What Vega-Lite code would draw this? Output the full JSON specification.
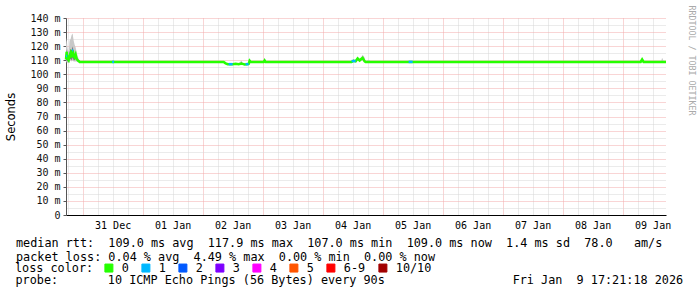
{
  "$schema": "https://vega.github.io/schema/vega-lite/v6.json",
  "width": 600,
  "height": 197,
  "autosize": "none",
  "padding": {"left": 66, "top": 18, "right": 31, "bottom": 82},
  "background": "white",
  "title": {"text": "probe:\u00a0\u00a0\u00a0\u00a0\u00a0\u00a0\u00a010 ICMP Echo Pings (56 Bytes) every 90s\u00a0\u00a0\u00a0\u00a0\u00a0\u00a0\u00a0\u00a0\u00a0\u00a0\u00a0\u00a0\u00a0\u00a0\u00a0\u00a0\u00a0\u00a0Fri Jan\u00a0\u00a09 17:21:18 2026",
    "orient": "bottom", "anchor": "start", "frame": "group", "dx": -50.5, "offset": 0, "baseline": "top",
    "font": "DejaVu Sans Mono", "fontSize": 11.8, "fontWeight": "normal", "color": "#000"},
  "config": {
    "view": {"stroke": null},
    "axis": {"labelFont": "DejaVu Sans Mono", "titleFont": "DejaVu Sans Mono", "titleFontWeight": "normal", "gridDash": [1, 1], "gridWidth": 1, "gridOpacity": 1}
  },
  "datasets": {
    "ping": [
      {"t": "2025-12-30T17:21:00Z", "med": 110.5, "lo": 108, "hi": 121, "dlo": 109.5, "dhi": 113},
      {"t": "2025-12-30T17:36:00Z", "med": 116, "lo": 109, "hi": 126, "dlo": 110, "dhi": 118},
      {"t": "2025-12-30T18:00:00Z", "med": 111, "lo": 108, "hi": 118, "dlo": 109, "dhi": 113},
      {"t": "2025-12-30T18:24:00Z", "med": 110, "lo": 108, "hi": 116, "dlo": 109, "dhi": 112},
      {"t": "2025-12-30T18:48:00Z", "med": 113, "lo": 109, "hi": 124, "dlo": 110, "dhi": 116},
      {"t": "2025-12-30T19:12:00Z", "med": 115, "lo": 110, "hi": 125, "dlo": 111, "dhi": 118},
      {"t": "2025-12-30T19:36:00Z", "med": 112, "lo": 109, "hi": 128, "dlo": 110, "dhi": 117},
      {"t": "2025-12-30T20:00:00Z", "med": 117, "lo": 110, "hi": 129, "dlo": 112, "dhi": 120},
      {"t": "2025-12-30T20:24:00Z", "med": 113, "lo": 109, "hi": 124, "dlo": 110, "dhi": 116},
      {"t": "2025-12-30T20:48:00Z", "med": 112, "lo": 109, "hi": 121, "dlo": 110, "dhi": 114},
      {"t": "2025-12-30T21:12:00Z", "med": 114, "lo": 109, "hi": 119, "dlo": 111, "dhi": 116},
      {"t": "2025-12-30T21:36:00Z", "med": 111, "lo": 109, "hi": 116, "dlo": 110, "dhi": 113},
      {"t": "2025-12-30T22:00:00Z", "med": 110, "lo": 108.5, "hi": 113, "dlo": 109, "dhi": 111},
      {"t": "2025-12-30T22:24:00Z", "med": 109.5, "lo": 108.5, "hi": 111, "dlo": 109, "dhi": 110},
      {"t": "2025-12-30T22:48:00Z", "med": 108.8, "lo": 108.4, "hi": 109.3, "dlo": 108.8, "dhi": 108.8},
      {"t": "2026-01-02T08:24:00Z", "med": 108.8, "lo": 108.4, "hi": 109.3, "dlo": 108.8, "dhi": 108.8},
      {"t": "2026-01-02T09:12:00Z", "med": 107.8, "lo": 107.4, "hi": 108.3, "dlo": 107.8, "dhi": 107.8},
      {"t": "2026-01-02T10:00:00Z", "med": 107.2, "lo": 106.8, "hi": 107.7, "dlo": 107.2, "dhi": 107.2},
      {"t": "2026-01-02T12:00:00Z", "med": 107.2, "lo": 106.8, "hi": 107.7, "dlo": 107.2, "dhi": 107.2},
      {"t": "2026-01-02T13:12:00Z", "med": 107.5, "lo": 107.1, "hi": 108, "dlo": 107.5, "dhi": 107.5},
      {"t": "2026-01-02T14:24:00Z", "med": 107.2, "lo": 106.8, "hi": 107.7, "dlo": 107.2, "dhi": 107.2},
      {"t": "2026-01-02T15:36:00Z", "med": 107.6, "lo": 107, "hi": 109.8, "dlo": 107.2, "dhi": 108.6},
      {"t": "2026-01-02T16:00:00Z", "med": 107.4, "lo": 107, "hi": 107.9, "dlo": 107.4, "dhi": 107.4},
      {"t": "2026-01-02T16:48:00Z", "med": 107, "lo": 106.6, "hi": 107.5, "dlo": 107, "dhi": 107},
      {"t": "2026-01-02T17:36:00Z", "med": 107.1, "lo": 106.7, "hi": 107.6, "dlo": 107.1, "dhi": 107.1},
      {"t": "2026-01-02T18:24:00Z", "med": 107.4, "lo": 107, "hi": 107.9, "dlo": 107.4, "dhi": 107.4},
      {"t": "2026-01-02T18:48:00Z", "med": 109.6, "lo": 107, "hi": 111.2, "dlo": 107.5, "dhi": 111},
      {"t": "2026-01-02T19:12:00Z", "med": 108.8, "lo": 108.4, "hi": 109.3, "dlo": 108.8, "dhi": 108.8},
      {"t": "2026-01-03T00:24:00Z", "med": 108.8, "lo": 108.4, "hi": 109.3, "dlo": 108.8, "dhi": 108.8},
      {"t": "2026-01-03T00:48:00Z", "med": 109.8, "lo": 108.5, "hi": 111.8, "dlo": 108.6, "dhi": 111.4},
      {"t": "2026-01-03T01:12:00Z", "med": 108.8, "lo": 108.4, "hi": 109.3, "dlo": 108.8, "dhi": 108.8},
      {"t": "2026-01-04T11:36:00Z", "med": 108.8, "lo": 108.4, "hi": 109.3, "dlo": 108.8, "dhi": 108.8},
      {"t": "2026-01-04T12:24:00Z", "med": 109.6, "lo": 108.8, "hi": 110.8, "dlo": 109.6, "dhi": 109.6},
      {"t": "2026-01-04T13:12:00Z", "med": 109.2, "lo": 108.8, "hi": 109.7, "dlo": 109.2, "dhi": 109.2},
      {"t": "2026-01-04T14:00:00Z", "med": 111.2, "lo": 109.5, "hi": 112.2, "dlo": 111.2, "dhi": 111.2},
      {"t": "2026-01-04T14:48:00Z", "med": 109.8, "lo": 109.2, "hi": 110.5, "dlo": 109.8, "dhi": 109.8},
      {"t": "2026-01-04T15:12:00Z", "med": 110.5, "lo": 109.5, "hi": 111.5, "dlo": 110.5, "dhi": 110.5},
      {"t": "2026-01-04T16:00:00Z", "med": 111.6, "lo": 109.8, "hi": 113.8, "dlo": 111.6, "dhi": 111.6},
      {"t": "2026-01-04T16:48:00Z", "med": 109.2, "lo": 108.6, "hi": 112, "dlo": 109.2, "dhi": 109.2},
      {"t": "2026-01-04T17:12:00Z", "med": 108.8, "lo": 108.4, "hi": 109.3, "dlo": 108.8, "dhi": 108.8},
      {"t": "2026-01-04T18:24:00Z", "med": 108.8, "lo": 108.4, "hi": 110.4, "dlo": 108.8, "dhi": 108.8},
      {"t": "2026-01-04T19:12:00Z", "med": 108.8, "lo": 108.4, "hi": 109.3, "dlo": 108.8, "dhi": 108.8},
      {"t": "2026-01-09T07:12:00Z", "med": 108.8, "lo": 108.4, "hi": 109.3, "dlo": 108.8, "dhi": 108.8},
      {"t": "2026-01-09T07:48:00Z", "med": 110.6, "lo": 108.4, "hi": 111.4, "dlo": 108.8, "dhi": 111.1},
      {"t": "2026-01-09T08:24:00Z", "med": 108.8, "lo": 108.4, "hi": 109.3, "dlo": 108.8, "dhi": 108.8},
      {"t": "2026-01-09T15:24:00Z", "med": 108.8, "lo": 108.4, "hi": 109.3, "dlo": 108.8, "dhi": 108.8},
      {"t": "2026-01-09T15:48:00Z", "med": 108.8, "lo": 108.4, "hi": 111.8, "dlo": 108.8, "dhi": 108.8},
      {"t": "2026-01-09T16:24:00Z", "med": 108.8, "lo": 108.4, "hi": 109.3, "dlo": 108.8, "dhi": 108.8},
      {"t": "2026-01-09T17:21:00Z", "med": 108.8, "lo": 108.4, "hi": 109.3, "dlo": 108.8, "dhi": 108.8}
    ],
    "loss": [
      {"t": "2025-12-30T17:21:00Z", "t2": "2025-12-30T17:48:00Z", "med": 113, "loss": "1"},
      {"t": "2025-12-30T19:48:00Z", "t2": "2025-12-30T20:12:00Z", "med": 117, "loss": "1"},
      {"t": "2025-12-31T11:48:00Z", "t2": "2025-12-31T12:36:00Z", "med": 108.8, "loss": "1"},
      {"t": "2026-01-02T10:24:00Z", "t2": "2026-01-02T12:00:00Z", "med": 107.2, "loss": "1"},
      {"t": "2026-01-02T17:12:00Z", "t2": "2026-01-02T18:24:00Z", "med": 107.2, "loss": "1"},
      {"t": "2026-01-04T11:36:00Z", "t2": "2026-01-04T13:12:00Z", "med": 109.4, "loss": "1"},
      {"t": "2026-01-05T10:24:00Z", "t2": "2026-01-05T12:00:00Z", "med": 108.8, "loss": "1"}
    ]
  },
  "layer": [
    {
      "data": {"name": "ping"},
      "mark": {"type": "area", "color": "#c8c8c8", "opacity": 1},
      "encoding": {
        "x": {"field": "t", "type": "temporal",
          "scale": {"type": "utc", "domain": [{"year": 2025, "month": 12, "date": 30, "hours": 17, "minutes": 21, "utc": true}, {"year": 2026, "month": 1, "date": 9, "hours": 17, "minutes": 21, "utc": true}]},
          "axis": {"orient": "bottom", "values": [1767117600000, 1767160800000, 1767182400000, 1767204000000, 1767247200000, 1767268800000, 1767290400000, 1767333600000, 1767355200000, 1767376800000, 1767420000000, 1767441600000, 1767463200000, 1767506400000, 1767528000000, 1767549600000, 1767592800000, 1767614400000, 1767636000000, 1767679200000, 1767700800000, 1767722400000, 1767765600000, 1767787200000, 1767808800000, 1767852000000, 1767873600000, 1767895200000, 1767938400000, 1767960000000],
            "grid": true, "gridColor": "#d6d6d6", "domain": false, "ticks": false, "labels": false, "title": null}},
        "y": {"field": "lo", "type": "quantitative",
          "scale": {"domain": [0, 140], "nice": false, "zero": false},
          "axis": {"orient": "left", "values": [5, 15, 25, 35, 45, 55, 65, 75, 85, 95, 105, 115, 125, 135],
            "grid": true, "gridColor": "#d6d6d6", "domain": false, "ticks": false, "labels": false, "title": null}},
        "y2": {"field": "hi"}
      }
    },
    {
      "data": {"name": "ping"},
      "mark": {"type": "area", "color": "#7a7a7a", "opacity": 1},
      "encoding": {
        "x": {"field": "t", "type": "temporal",
          "axis": {"orient": "bottom", "values": [1767139200000, 1767225600000, 1767312000000, 1767398400000, 1767484800000, 1767571200000, 1767657600000, 1767744000000, 1767830400000, 1767916800000],
            "grid": true, "gridColor": "#f2aaaa", "domain": false, "ticks": false, "labels": false, "title": null}},
        "y": {"field": "dlo", "type": "quantitative",
          "axis": {"orient": "left", "values": [10, 20, 30, 40, 50, 60, 70, 80, 90, 100, 110, 120, 130, 140],
            "grid": true, "gridColor": "#f2aaaa", "domain": false, "ticks": false, "labels": false, "title": null}},
        "y2": {"field": "dhi"}
      }
    },
    {
      "data": {"name": "ping"},
      "mark": {"type": "line", "color": "#26ff00", "strokeWidth": 2.5},
      "encoding": {
        "x": {"field": "t", "type": "temporal",
          "axis": {"orient": "bottom", "values": [1767182400000, 1767268800000, 1767355200000, 1767441600000, 1767528000000, 1767614400000, 1767700800000, 1767787200000, 1767873600000, 1767960000000],
            "labelExpr": "utcFormat(datum.value, '%d %b')", "grid": false, "ticks": false, "tickSize": 0,
            "labelPadding": 5, "labelFontSize": 10, "labelColor": "#000", "labelFlush": false, "labelOverlap": false,
            "domain": true, "domainColor": "#000", "domainWidth": 1,
            "title": ["median rtt:\u00a0\u00a0109.0 ms avg\u00a0\u00a0117.9 ms max\u00a0\u00a0107.0 ms min\u00a0\u00a0109.0 ms now\u00a0\u00a01.4 ms sd\u00a0\u00a078.0\u00a0\u00a0\u00a0am/s",
                      "packet loss: 0.04 % avg\u00a0\u00a04.49 % max\u00a0\u00a00.00 % min\u00a0\u00a00.00 % now"],
            "titleX": -50.5, "titleY": 31, "titleAlign": "left", "titleAnchor": "start", "titleBaseline": "alphabetic",
            "titleFontSize": 11.8, "titleLineHeight": 14, "titleColor": "#000"}},
        "y": {"field": "med", "type": "quantitative",
          "axis": {"orient": "left", "values": [0, 10, 20, 30, 40, 50, 60, 70, 80, 90, 100, 110, 120, 130, 140],
            "labelExpr": "datum.value == 0 ? '0' : datum.value + ' m'", "grid": false,
            "ticks": true, "tickSize": 3, "tickColor": "#555", "labelPadding": 3, "labelFontSize": 10, "labelColor": "#111",
            "domain": true, "domainColor": "#555",
            "title": "Seconds", "titleFont": "DejaVu Sans", "titleFontSize": 11.5, "titleColor": "#000",
            "titleX": -55, "titleY": 98.5, "titleAngle": 270, "titleAlign": "center", "titleBaseline": "middle"}}
      }
    },
    {
      "data": {"name": "loss"},
      "mark": {"type": "rule", "strokeWidth": 2.5, "strokeCap": "butt"},
      "encoding": {
        "x": {"field": "t", "type": "temporal", "axis": null},
        "x2": {"field": "t2"},
        "y": {"field": "med", "type": "quantitative",
          "axis": {"orient": "right", "grid": false, "domain": false, "ticks": false, "labels": false,
            "title": "RRDTOOL / TOBI OETIKER", "titleFont": "DejaVu Sans Mono", "titleFontSize": 8.3, "titleColor": "#aaaaaa",
            "titleX": 24, "titleY": -13, "titleAngle": 90, "titleAlign": "left", "titleBaseline": "middle"}},
        "color": {"field": "loss", "type": "nominal",
          "scale": {"domain": ["0", "1", "2", "3", "4", "5", "6-9", "10/10"],
            "range": ["#26ff00", "#00b8ff", "#0059ff", "#7e00ff", "#ff00ff", "#ff5500", "#ff0000", "#a10000"]},
          "legend": {"orient": "none", "legendX": -51, "legendY": 244, "direction": "horizontal",
            "title": "loss color:", "titleOrient": "left", "titleFont": "DejaVu Sans Mono", "titleFontSize": 11.8,
            "titleFontWeight": "normal", "titleColor": "#000", "titlePadding": 9,
            "labelFont": "DejaVu Sans Mono", "labelFontSize": 11.8, "labelColor": "#000", "labelOffset": 7,
            "columnPadding": 10, "symbolType": "square", "symbolSize": 64,
            "encode": {"symbols": {"update": {"fill": {"scale": "color", "field": "value"}, "stroke": {"value": "#000"}, "strokeWidth": {"value": 1}, "opacity": {"value": 1}, "fillOpacity": {"value": 1}}}}}}
      }
    },
    {
      "mark": {"type": "rule", "color": "#555", "strokeWidth": 1},
      "encoding": {
        "x": {"datum": {"year": 2025, "month": 12, "date": 30, "hours": 17, "minutes": 21, "utc": true}, "type": "temporal", "axis": null},
        "y": {"datum": 140, "type": "quantitative", "axis": null},
        "y2": {"datum": 146}
      }
    },
    {
      "mark": {"type": "rule", "color": "#000", "strokeWidth": 1},
      "encoding": {
        "x": {"datum": {"year": 2026, "month": 1, "date": 9, "hours": 17, "minutes": 21, "utc": true}, "type": "temporal", "axis": null},
        "x2": {"datum": {"year": 2026, "month": 1, "date": 9, "hours": 18, "minutes": 40, "utc": true}},
        "y": {"datum": 0, "type": "quantitative", "axis": null}
      }
    },
    {
      "mark": {"type": "point", "shape": "triangle-up", "filled": true, "color": "#a02828", "size": 22, "opacity": 1},
      "encoding": {
        "x": {"datum": {"year": 2025, "month": 12, "date": 30, "hours": 17, "minutes": 21, "utc": true}, "type": "temporal", "axis": null},
        "y": {"datum": 146.5, "type": "quantitative", "axis": null}
      }
    },
    {
      "mark": {"type": "point", "shape": "triangle-right", "filled": true, "color": "#a02828", "size": 22, "opacity": 1},
      "encoding": {
        "x": {"datum": {"year": 2026, "month": 1, "date": 9, "hours": 19, "minutes": 0, "utc": true}, "type": "temporal", "axis": null},
        "y": {"datum": 0, "type": "quantitative", "axis": null}
      }
    }
  ],
  "resolve": {"axis": {"x": "independent", "y": "independent"}}
}
